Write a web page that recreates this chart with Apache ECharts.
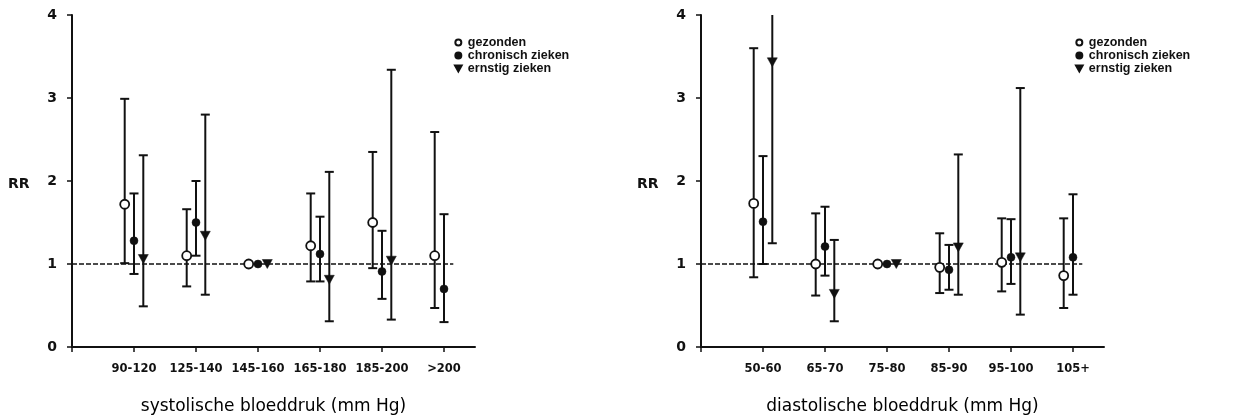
<!DOCTYPE html>
<html><head><meta charset="utf-8">
<script src="https://cdn.jsdelivr.net/npm/echarts@6/dist/echarts.min.js"></script>
<style>html,body{margin:0;padding:0;background:#fff}#c{width:1238px;height:415px}</style>
</head><body><div id="c"></div>
<script>
// ---- data ----
const sysCats = ['90-120','125-140','145-160','165-180','185-200','>200'];
const sysGez   = [1.72, 1.10, 1.00, 1.22, 1.50, 1.10];
const sysGezLo = [1.01, 0.73, null, 0.79, 0.95, 0.47];
const sysGezHi = [2.99, 1.66, null, 1.85, 2.35, 2.59];
const sysChr   = [1.28, 1.50, 1.00, 1.12, 0.91, 0.70];
const sysChrLo = [0.88, 1.10, null, 0.79, 0.58, 0.30];
const sysChrHi = [1.85, 2.00, null, 1.57, 1.40, 1.60];
const sysErn   = [1.06, 1.34, 1.00, 0.81, 1.04, null];
const sysErnLo = [0.49, 0.63, null, 0.31, 0.33, null];
const sysErnHi = [2.31, 2.80, null, 2.11, 3.34, null];

const diaCats = ['50-60','65-70','75-80','85-90','95-100','105+'];
const diaGez   = [1.73, 1.00, 1.00, 0.96, 1.02, 0.86];
const diaGezLo = [0.84, 0.62, null, 0.65, 0.67, 0.47];
const diaGezHi = [3.60, 1.61, null, 1.37, 1.55, 1.55];
const diaChr   = [1.51, 1.21, 1.00, 0.93, 1.08, 1.08];
const diaChrLo = [1.00, 0.86, null, 0.69, 0.76, 0.63];
const diaChrHi = [2.30, 1.69, null, 1.23, 1.54, 1.84];
const diaErn   = [3.43, 0.64, 1.00, 1.20, 1.08, null];
const diaErnLo = [1.25, 0.31, null, 0.63, 0.39, null];
const diaErnHi = [4.00, 1.29, null, 2.32, 3.12, null];

const yTicks = [0, 1, 2, 3, 4];
const seriesNames = ['gezonden', 'chronisch zieken', 'ernstig zieken'];
const refValue = 1;
// ---- end data ----

const INK = '#111';
const offsets = [-0.15, 0, 0.15];
const triDown = 'path://M0,0 L10,0 L5,9 Z';
const symbols = ['circle', 'circle', triDown];
const symSizes = [9, 8, [10, 9]];
const fills = ['#fff', INK, INK];

function pts(vals, off) {
  return vals.map((v, i) => v == null ? null : [i + 1 + off, v]).filter(Boolean);
}
function errs(lo, hi, off) {
  return lo.map((l, i) => l == null ? null : [i + 1 + off, l, hi[i]]).filter(Boolean);
}
function renderErr(params, api) {
  const x = api.value(0), lo = api.value(1), hi = api.value(2);
  const a = api.coord([x, lo]), b = api.coord([x, hi]);
  const hw = 4.5;
  const st = { stroke: INK, lineWidth: 2 };
  const ch = [{ type: 'line', shape: { x1: a[0], y1: a[1], x2: b[0], y2: b[1] }, style: st }];
  ch.push({ type: 'line', shape: { x1: a[0] - hw, y1: a[1], x2: a[0] + hw, y2: a[1] }, style: st });
  if (hi < 4) ch.push({ type: 'line', shape: { x1: b[0] - hw, y1: b[1], x2: b[0] + hw, y2: b[1] }, style: st });
  return { type: 'group', children: ch };
}

const FONT = 'DejaVu Sans';
function xAxis(gi, cats, name) {
  return {
    type: 'value', gridIndex: gi, min: 0, max: 6.5,
    axisLine: { lineStyle: { color: INK, width: 2 } },
    axisTick: { show: true, length: 5, lineStyle: { color: INK, width: 1.5 }, customValues: [0, 1, 2, 3, 4, 5, 6] },
    axisLabel: { customValues: [1, 2, 3, 4, 5, 6], formatter: v => cats[Math.round(v) - 1] || '',
      fontFamily: FONT, fontWeight: 'bold', fontSize: 11.5, color: INK, margin: 16 },
    splitLine: { show: false },
    name: name, nameLocation: 'middle', nameGap: 51,
    nameTextStyle: { fontFamily: FONT, fontSize: 17, color: '#000' }
  };
}
function yAxis(gi) {
  return {
    type: 'value', gridIndex: gi, min: yTicks[0], max: yTicks[yTicks.length - 1], interval: 1,
    axisLine: { show: true, lineStyle: { color: INK, width: 2 } },
    axisTick: { show: true, length: 5, lineStyle: { color: INK, width: 1.5 } },
    axisLabel: { fontFamily: FONT, fontWeight: 'bold', fontSize: 14, color: INK, margin: 15 },
    splitLine: { show: false }
  };
}

function chartSeries(gi, sets) {
  const out = [];
  sets.forEach((s, k) => {
    out.push({
      type: 'custom', xAxisIndex: gi, yAxisIndex: gi, renderItem: renderErr,
      data: errs(s.lo, s.hi, offsets[k]), z: 2, silent: true
    });
  });
  out.push({
    type: 'line', xAxisIndex: gi, yAxisIndex: gi, data: [[0, refValue], [6.15, refValue]],
    symbol: 'none', lineStyle: { color: INK, width: 1.5, type: [5, 2] }, z: 1, silent: true
  });
  sets.forEach((s, k) => {
    out.push({
      type: 'scatter', name: seriesNames[k], xAxisIndex: gi, yAxisIndex: gi,
      data: pts(s.v, offsets[k]), symbol: symbols[k], symbolSize: symSizes[k],
      itemStyle: { color: fills[k], borderColor: INK, borderWidth: k === 0 ? 1.8 : 0.5, opacity: 1 },
      z: 5
    });
  });
  return out;
}

const sysSets = [
  { v: sysGez, lo: sysGezLo, hi: sysGezHi },
  { v: sysChr, lo: sysChrLo, hi: sysChrHi },
  { v: sysErn, lo: sysErnLo, hi: sysErnHi }
];
const diaSets = [
  { v: diaGez, lo: diaGezLo, hi: diaGezHi },
  { v: diaChr, lo: diaChrLo, hi: diaChrHi },
  { v: diaErn, lo: diaErnLo, hi: diaErnHi }
];

function legend(left) {
  return {
    data: seriesNames,
    orient: 'vertical', left: left, top: 31, itemGap: 0,
    itemWidth: 9, itemHeight: 6, itemTextGap: 7, selectedMode: false,
    textStyle: { fontFamily: 'Liberation Sans', fontWeight: 'bold', fontSize: 12.5, color: INK, lineHeight: 12 }
  };
}

const chart = echarts.init(document.getElementById('c'), null, { renderer: 'canvas' });
chart.setOption({
  animation: false,
  backgroundColor: '#fff',
  grid: [
    { left: 72, width: 403, top: 15, height: 332, outerBoundsMode: 'none', containLabel: false },
    { left: 701, width: 403, top: 15, height: 332, outerBoundsMode: 'none', containLabel: false }
  ],
  xAxis: [xAxis(0, sysCats, 'systolische bloeddruk (mm Hg)'), xAxis(1, diaCats, 'diastolische bloeddruk (mm Hg)')],
  yAxis: [yAxis(0), yAxis(1)],
  legend: [legend(449), legend(1070)],
  graphic: [
    { type: 'text', left: 8, top: 177, style: { text: 'RR', font: 'bold 14px "DejaVu Sans"', fill: INK } },
    { type: 'text', left: 637, top: 177, style: { text: 'RR', font: 'bold 14px "DejaVu Sans"', fill: INK } }
  ],
  series: chartSeries(0, sysSets).concat(chartSeries(1, diaSets))
});
</script></body></html>
